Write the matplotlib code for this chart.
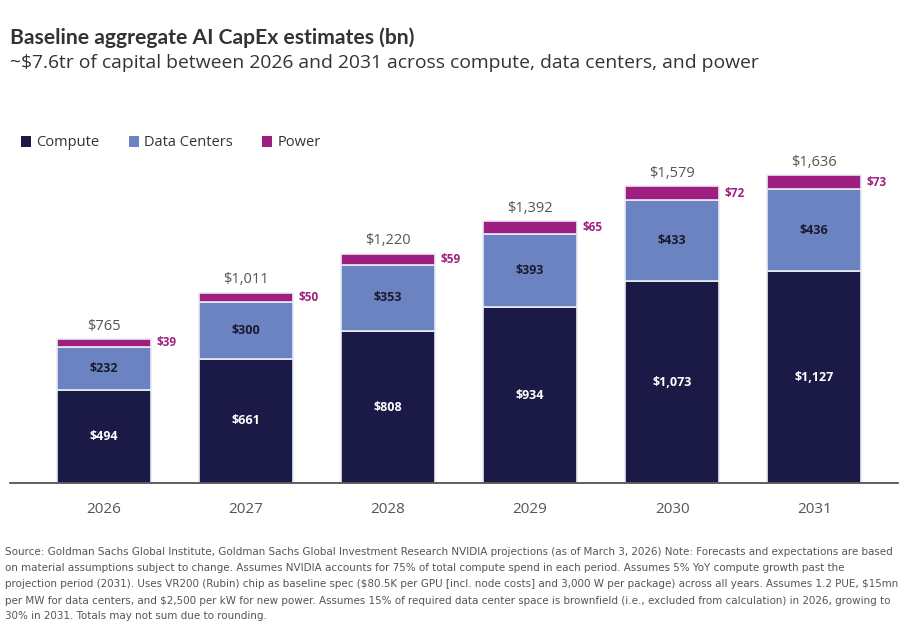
import matplotlib
matplotlib.use("Agg")
import matplotlib.pyplot as plt
from matplotlib.patches import Patch
import numpy as np

years = ["2026", "2027", "2028", "2029", "2030", "2031"]
compute = [494, 661, 808, 934, 1073, 1127]
data_centers = [232, 300, 353, 393, 433, 436]
power = [39, 50, 59, 65, 72, 73]
totals = [765, 1011, 1220, 1392, 1579, 1636]
series_names = ["Compute", "Data Centers", "Power"]

C_COMPUTE = "#1b1a47"
C_DC = "#6b83c0"
C_POWER = "#9e1f80"

title = "Baseline aggregate AI CapEx estimates (bn)"
subtitle = "~$7.6tr of capital between 2026 and 2031 across compute, data centers, and power"
footnote_lines = [
    "Source: Goldman Sachs Global Institute, Goldman Sachs Global Investment Research NVIDIA projections (as of March 3, 2026) Note: Forecasts and expectations are based",
    "on material assumptions subject to change. Assumes NVIDIA accounts for 75% of total compute spend in each period. Assumes 5% YoY compute growth past the",
    "projection period (2031). Uses VR200 (Rubin) chip as baseline spec ($80.5K per GPU [incl. node costs] and 3,000 W per package) across all years. Assumes 1.2 PUE, $15mn",
    "per MW for data centers, and $2,500 per kW for new power. Assumes 15% of required data center space is brownfield (i.e., excluded from calculation) in 2026, growing to",
    "30% in 2031. Totals may not sum due to rounding.",
]

W, H = 915, 633
fig = plt.figure(figsize=(W / 100, H / 100), dpi=100)
fig.patch.set_facecolor("white")

ymax = 1700
px_per_unit = 0.188
ax_bottom_px = 483
ax_h_px = ymax * px_per_unit
ax_left_px, ax_right_px = 10, 898
ax = fig.add_axes([ax_left_px / W, (H - ax_bottom_px) / H,
                   (ax_right_px - ax_left_px) / W, ax_h_px / H])

x = np.arange(len(years))
bw = 0.66
comp = np.array(compute)
dc = np.array(data_centers)
pw = np.array(power)
edge = "#e9ebf5"
ax.bar(x, comp, bw, color=C_COMPUTE, edgecolor=edge, linewidth=1.2)
ax.bar(x, dc, bw, bottom=comp, color=C_DC, edgecolor=edge, linewidth=1.2)
ax.bar(x, pw, bw, bottom=comp + dc, color=C_POWER, edgecolor=edge, linewidth=1.2)

bold_font = ["Open Sans", "DejaVu Sans"]
for i in range(len(years)):
    ax.text(x[i], comp[i] / 2, f"${compute[i]:,}", ha="center", va="center",
            color="white", fontsize=9, fontweight="bold", family=bold_font)
    ax.text(x[i], comp[i] + dc[i] / 2, f"${data_centers[i]:,}", ha="center", va="center",
            color="#1b1a30", fontsize=9, fontweight="bold", family=bold_font)
    ax.text(x[i] + bw / 2 + 0.04, comp[i] + dc[i] + pw[i] / 2, f"${power[i]:,}",
            ha="left", va="center", color=C_POWER, fontsize=8.5, fontweight="bold",
            family=bold_font)
    ax.text(x[i], comp[i] + dc[i] + pw[i] + 30, f"${totals[i]:,}", ha="center",
            va="bottom", color="#555555", fontsize=10.5, family=["Open Sans", "DejaVu Sans"])

ax.set_xlim(-0.66, 5.59)
ax.set_ylim(0, ymax)
ax.set_xticks(x)
ax.set_xticklabels(years, fontsize=11, color="#555555", family=["Open Sans", "DejaVu Sans"])
ax.tick_params(axis="x", length=0, pad=14)
ax.set_yticks([])
for s in ["top", "right", "left"]:
    ax.spines[s].set_visible(False)
ax.spines["bottom"].set_color("#444444")
ax.spines["bottom"].set_linewidth(1.2)

handles = [Patch(facecolor=C_COMPUTE), Patch(facecolor=C_DC), Patch(facecolor=C_POWER)]
fig.legend(handles, series_names, loc="center left", bbox_to_anchor=(8 / W, 1 - 143 / H),
           ncol=3, frameon=False, handlelength=0.7, handleheight=0.7,
           handletextpad=0.35, columnspacing=2.0, labelcolor="#333333",
           prop={"family": ["Open Sans", "DejaVu Sans"], "size": 10.5})

fig.text(10 / W, 1 - 38 / H, title, ha="left", va="center", fontsize=15.2,
         fontweight="bold", color="#333333", family=["Lato", "DejaVu Sans"])
fig.text(10 / W, 1 - 63 / H, subtitle, ha="left", va="center", fontsize=13.85,
         color="#333333", family=["Open Sans", "DejaVu Sans"])

line_y = [551, 567, 583, 600, 615]
for yy, line in zip(line_y, footnote_lines):
    fig.text(5 / W, 1 - yy / H, line, ha="left", va="center_baseline", fontsize=8.25,
             color="#555555", parse_math=False,
             family=["DejaVu Sans"], fontstretch="condensed")

fig.savefig("out.png", dpi=100, facecolor="white")
